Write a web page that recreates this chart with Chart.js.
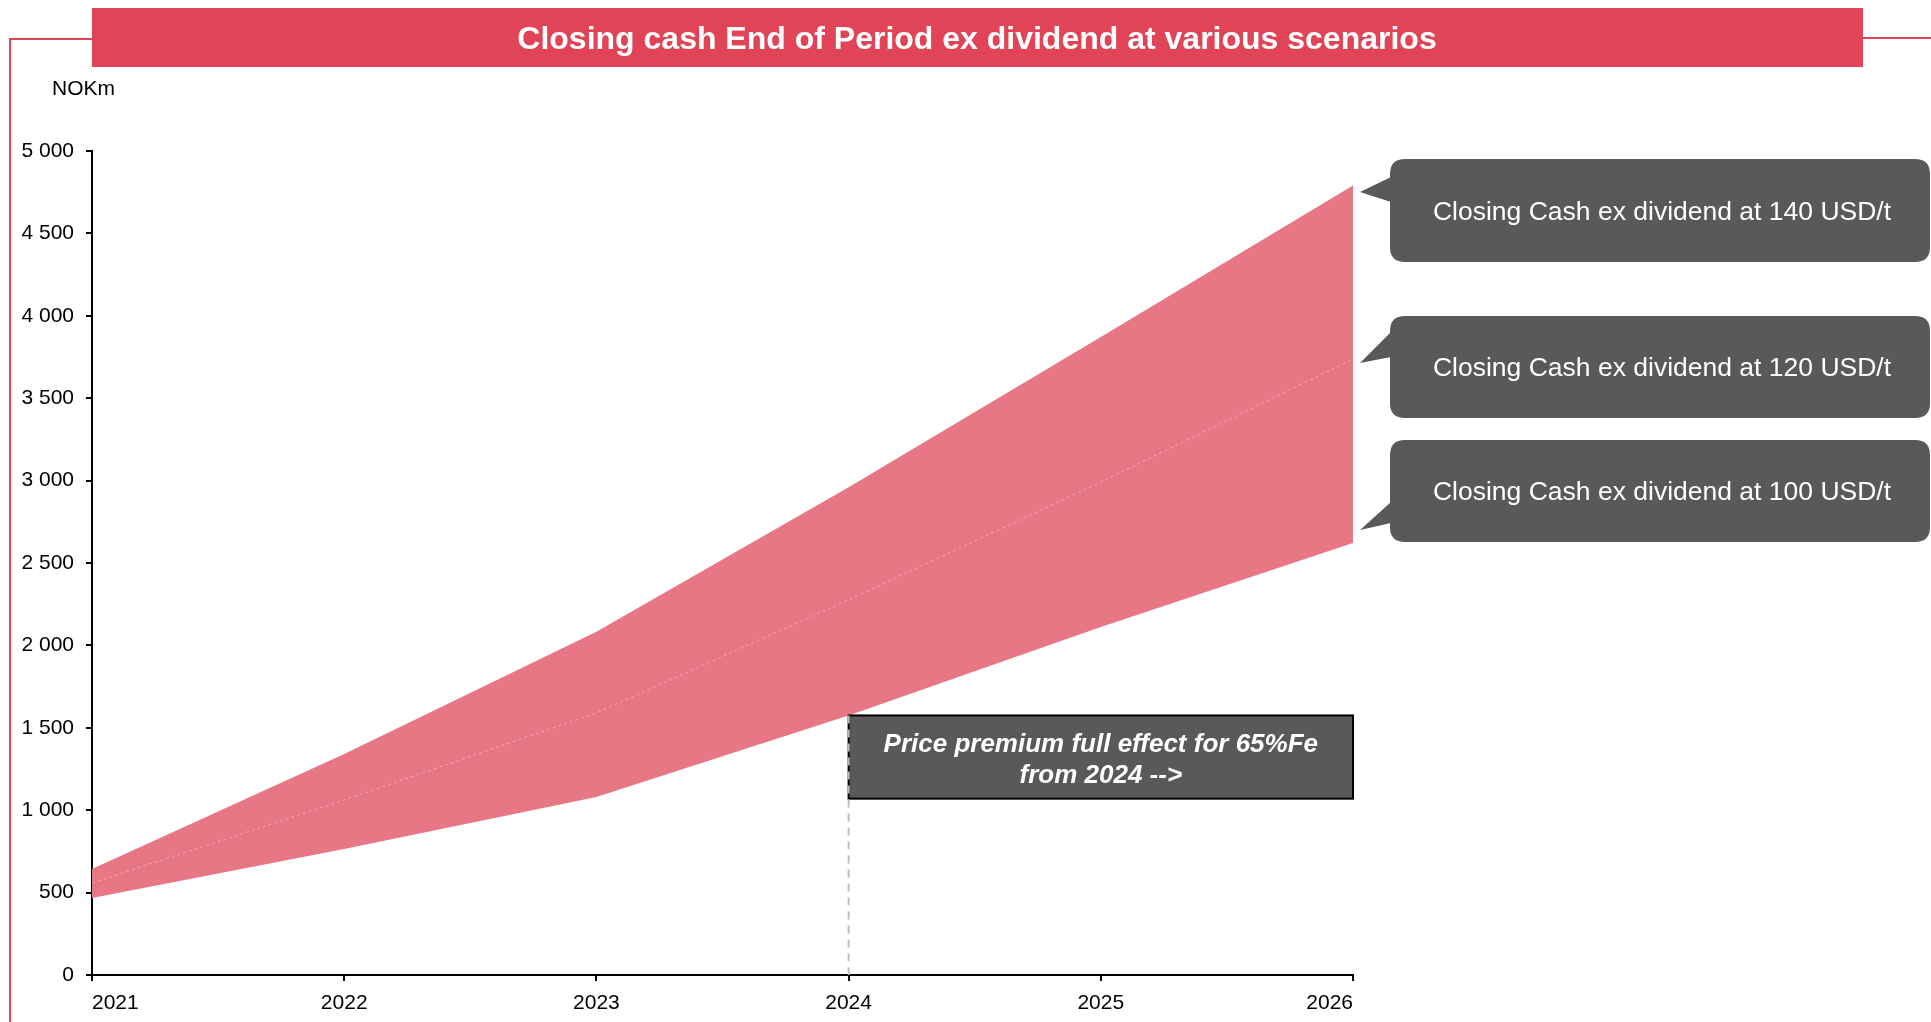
<!DOCTYPE html>
<html>
<head>
<meta charset="utf-8">
<title>Closing cash End of Period ex dividend</title>
<script src="https://cdn.jsdelivr.net/npm/chart.js@4.4.1/dist/chart.umd.min.js"></script>
<style>
  html, body { margin: 0; padding: 0; background: #fff; }
  #wrap { width: 1931px; height: 1022px; position: relative; }
</style>
</head>
<body>
<div id="wrap"><canvas id="grafico" width="1931" height="1022"></canvas></div>
<script>
// years on the x axis
var anios = [2021, 2022, 2023, 2024, 2025, 2026];
// closing cash ex dividend, NOKm, per iron ore price scenario
var caja140 = [643, 1341, 2083, 2959, 3871, 4790];
var caja120 = [558, 1062, 1590, 2276, 2991, 3738];
var caja100 = [467, 765, 1080, 1575, 2112, 2621];
var etiquetas = ["Closing Cash ex dividend at 140 USD/t",
                 "Closing Cash ex dividend at 120 USD/t",
                 "Closing Cash ex dividend at 100 USD/t"];
var titulo = "Closing cash End of Period ex dividend at various scenarios";
var nota = ["Price premium full effect for 65%Fe", "from 2024 -->"];
var anioNota = 2024;

var ROJO = "#e04456";
var ROSA = "#e87785";
var GRIS = "#595959";
var FUENTE = "'Liberation Sans', Arial, sans-serif";

function puntos(valores){
    return anios.map((a, i) => ({x: a, y: valores[i]}));
}

function miles(v){
    return String(v).replace(/\B(?=(\d{3})+(?!\d))/g, " ");
}

function cajaRedonda(ctx, x, y, w, h, r){
    ctx.beginPath();
    ctx.moveTo(x + r, y);
    ctx.lineTo(x + w - r, y);
    ctx.quadraticCurveTo(x + w, y, x + w, y + r);
    ctx.lineTo(x + w, y + h - r);
    ctx.quadraticCurveTo(x + w, y + h, x + w - r, y + h);
    ctx.lineTo(x + r, y + h);
    ctx.quadraticCurveTo(x, y + h, x, y + h - r);
    ctx.lineTo(x, y + r);
    ctx.quadraticCurveTo(x, y, x + r, y);
    ctx.closePath();
}

// frame, title bar, unit label, 2024 marker and the scenario callouts
const adornos = {
    id: "adornos",
    afterDatasetsDraw(chart){
        const ctx = chart.ctx;
        const xs = chart.scales.x, ys = chart.scales.y;
        ctx.save();

        // red frame lines
        ctx.strokeStyle = ROJO;
        ctx.lineWidth = 2;
        ctx.beginPath();
        ctx.moveTo(10, 1022); ctx.lineTo(10, 39); ctx.lineTo(92, 39);
        ctx.moveTo(1863, 38); ctx.lineTo(1931, 38);
        ctx.stroke();

        // title bar
        ctx.fillStyle = ROJO;
        ctx.fillRect(92, 8, 1771, 59);
        ctx.fillStyle = "#fff";
        ctx.font = "bold 32px " + FUENTE;
        ctx.textAlign = "center";
        ctx.textBaseline = "middle";
        ctx.fillText(titulo, 977, 40);

        // unit
        ctx.fillStyle = "#000";
        ctx.font = "21px " + FUENTE;
        ctx.textAlign = "left";
        ctx.fillText("NOKm", 52, 89);

        // premium note box, from 2024 to the end of the axis
        const x0 = xs.getPixelForValue(anioNota);
        const x1 = xs.getPixelForValue(anios[anios.length - 1]);
        const yTop = ys.getPixelForValue(caja100[anios.indexOf(anioNota)]);
        const yBot = ys.getPixelForValue(1070);
        ctx.fillStyle = GRIS;
        ctx.fillRect(x0, yTop, x1 - x0, yBot - yTop);
        ctx.strokeStyle = "#000";
        ctx.lineWidth = 2;
        ctx.strokeRect(x0, yTop, x1 - x0, yBot - yTop);
        ctx.fillStyle = "#fff";
        ctx.font = "italic bold 26px " + FUENTE;
        ctx.textAlign = "center";
        ctx.textBaseline = "alphabetic";
        ctx.fillText(nota[0], (x0 + x1) / 2, yTop + 37);
        ctx.fillText(nota[1], (x0 + x1) / 2, yTop + 68);

        // dashed marker down to the axis
        ctx.strokeStyle = "#bfbfbf";
        ctx.lineWidth = 2;
        ctx.setLineDash([8, 6]);
        ctx.beginPath();
        ctx.moveTo(x0, yTop);
        ctx.lineTo(x0, ys.getPixelForValue(0));
        ctx.stroke();
        ctx.setLineDash([]);

        // scenario callouts with pointers
        const cajas = [
            {top: 159, h: 103, base: [177, 202], punta: 192},
            {top: 316, h: 102, base: [332, 357], punta: 363},
            {top: 440, h: 102, base: [502, 523], punta: 530}
        ];
        const bx = 1390, bw = 540, px = 1360;
        ctx.font = "26.5px " + FUENTE;
        ctx.textBaseline = "middle";
        cajas.forEach((c, i) => {
            ctx.fillStyle = GRIS;
            cajaRedonda(ctx, bx, c.top, bw, c.h, 15);
            ctx.fill();
            ctx.beginPath();
            ctx.moveTo(bx + 1, c.base[0]);
            ctx.lineTo(px, c.punta);
            ctx.lineTo(bx + 1, c.base[1]);
            ctx.closePath();
            ctx.fill();
            ctx.fillStyle = "#fff";
            ctx.fillText(etiquetas[i], bx + bw / 2 + 2, c.top + c.h / 2 + 2);
        });

        ctx.restore();
    }
};

new Chart(document.getElementById("grafico"), {
    type: "line",
    data: {
        datasets: [
            {
                label: etiquetas[2],
                data: puntos(caja100),
                borderWidth: 0,
                pointRadius: 0,
                fill: false
            },
            {
                label: etiquetas[1],
                data: puntos(caja120),
                borderColor: "rgba(255,255,255,0.35)",
                borderWidth: 1,
                borderDash: [3, 3],
                pointRadius: 0,
                fill: false,
                order: -1
            },
            {
                label: etiquetas[0],
                data: puntos(caja140),
                borderWidth: 0,
                pointRadius: 0,
                backgroundColor: ROSA,
                fill: 0
            }
        ]
    },
    options: {
        responsive: false,
        animation: false,
        layout: {padding: {left: 0, top: 151, right: 578, bottom: 0}},
        plugins: {
            legend: {display: false},
            tooltip: {enabled: false}
        },
        scales: {
            x: {
                type: "linear",
                min: anios[0],
                max: anios[anios.length - 1],
                afterFit: (s) => { s.height = 47; },
                border: {display: true, color: "#000", width: 2},
                grid: {drawOnChartArea: false, drawTicks: true, tickLength: 6, color: "#000", lineWidth: 2},
                ticks: {
                    stepSize: 1,
                    align: "inner",
                    padding: 10,
                    color: "#000",
                    font: {family: FUENTE, size: 21},
                    callback: (v) => String(v)
                }
            },
            y: {
                min: 0,
                max: 5000,
                afterFit: (s) => { s.width = 92; },
                border: {display: true, color: "#000", width: 2},
                grid: {drawOnChartArea: false, drawTicks: true, tickLength: 6, color: "#000", lineWidth: 2},
                ticks: {
                    stepSize: 500,
                    padding: 12,
                    color: "#000",
                    font: {family: FUENTE, size: 21},
                    callback: (v) => miles(v)
                }
            }
        }
    },
    plugins: [adornos]
});
</script>
</body>
</html>
